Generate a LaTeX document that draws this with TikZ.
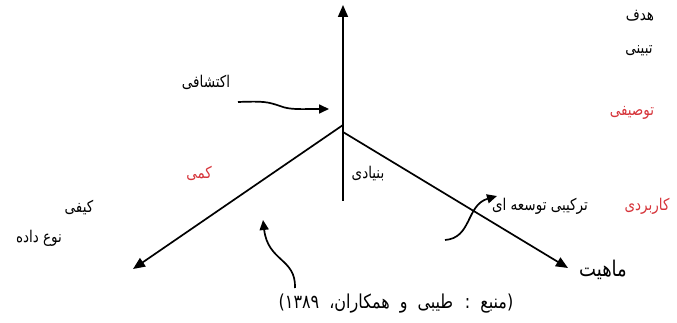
\documentclass[tikz,border=0pt]{standalone}
\usepackage{fontspec}
\usepackage{graphicx}
\usetikzlibrary{arrows.meta}
\TeXXeTstate=1
\newfontfamily\arabicfont[Script=Arabic]{DejaVu Sans}
\newcommand{\fatext}[1]{\scalebox{1}[1.2]{\beginR #1\endR}}
\definecolor{lblred}{RGB}{214,52,58}
\begin{document}
\begin{tikzpicture}[x=1pt,y=-1pt,
  axis/.style={line width=1.7pt,-{Triangle[length=12pt,width=10pt]}},
  curvearrow/.style={line width=1.7pt,-{Triangle[length=10pt,width=9pt]}},
  lbl/.style={inner sep=0pt,font=\arabicfont\fontsize{13.5}{15}\selectfont},
  redlbl/.style={lbl,text=lblred}]
\useasboundingbox (0,0) rectangle (677,323);
% axes
\coordinate (O) at (343,125);
\coordinate (O2) at (343,132);
\coordinate (vbot) at (343,201);
\coordinate (vtop) at (343,5);
\coordinate (ltip) at (133,269);
\coordinate (rtip) at (568,268);
\draw[axis] (vbot) -- (vtop);
\draw[axis] (O) -- (ltip);
\draw[axis] (O2) -- (rtip);
% curved arrows
\coordinate (a1s) at (238,102);
\coordinate (a1e) at (329,109);
\draw[curvearrow] (a1s) .. controls (265,101) and (268,102) .. (280,106) .. controls (290,110) and (300,109) .. (a1e);
\coordinate (a2s) at (295,288);
\coordinate (a2e) at (263,220);
\draw[curvearrow] (a2s) .. controls (296,258) and (268,262) .. (a2e);
\coordinate (a3s) at (445,240);
\coordinate (a3e) at (497,196);
\draw[curvearrow] (a3s) .. controls (472,238) and (466,205) .. (a3e);
% labels
\node[lbl] (hadaf) at (640,16) {\fatext{هدف}};
\node[lbl] (tabyini) at (639,51) {\fatext{تبینی}};
\node[redlbl] (tosifi) at (632,113) {\fatext{توصیفی}};
\node[redlbl] (karbordi) at (647,206) {\fatext{کاربردی}};
\node[lbl] (tarkibi) at (540,206) {\fatext{ترکیبی توسعه ای}};
\node[lbl,font=\arabicfont\fontsize{18}{20}\selectfont] (mahiyat) at (603,270) {\fatext{ماهیت}};
\node[lbl] (bonyadi) at (368,174) {\fatext{بنیادی}};
\node[lbl] (ekteshafi) at (206,82) {\fatext{اکتشافی}};
\node[redlbl] (kammi) at (199,173) {\fatext{کمی}};
\node[lbl] (keyfi) at (79,208) {\fatext{کیفی}};
\node[lbl] (noedade) at (39,238) {\fatext{نوع داده}};
\node[lbl,font=\arabicfont\fontsize{16}{18}\selectfont] (source) at (396,304) {\spaceskip=10pt\fatext{(منبع : طیبی و همکاران، ۱۳۸۹)}};
\end{tikzpicture}
\end{document}
